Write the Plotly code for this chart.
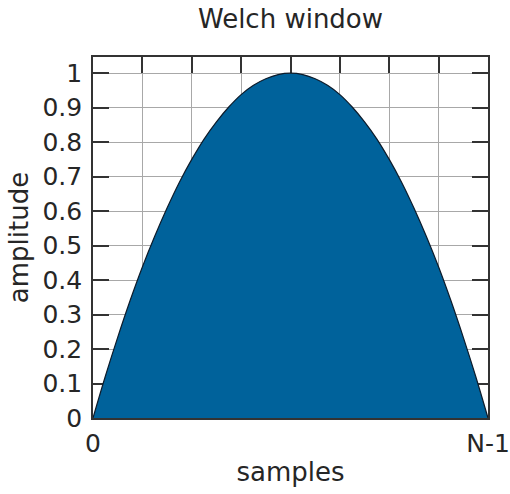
import plotly.graph_objects as go

# Welch window sampled at n = 0 .. N-1 (N-1 = 32 here)
samples = list(range(33))
amplitude = [
    0.000, 0.121, 0.234, 0.340, 0.438, 0.527, 0.609, 0.684,
    0.750, 0.809, 0.859, 0.902, 0.938, 0.965, 0.984, 0.996,
    1.000,
    0.996, 0.984, 0.965, 0.938, 0.902, 0.859, 0.809, 0.750,
    0.684, 0.609, 0.527, 0.438, 0.340, 0.234, 0.121, 0.000,
]

x_tickvals = [0, 4, 8, 12, 16, 20, 24, 28, 32]
x_ticktext = ["0", "", "", "", "", "", "", "", "N-1"]
y_tickvals = [0, 0.1, 0.2, 0.3, 0.4, 0.5, 0.6, 0.7, 0.8, 0.9, 1]
y_ticktext = ["0", "0.1", "0.2", "0.3", "0.4", "0.5", "0.6", "0.7", "0.8", "0.9", "1"]

FONT = "DejaVu Sans"
TEXT = "#262626"
FRAME = "#333333"
GRID = "#a8a8a8"
FS = 26

fig = go.Figure(
    go.Scatter(
        x=samples,
        y=amplitude,
        mode="lines",
        line=dict(color="#0d1b2a", width=1.2, shape="spline"),
        fill="tozeroy",
        fillcolor="#00629b",
        hoverinfo="skip",
    )
)

axis_common = dict(
    automargin=False,
    showline=True,
    linecolor=FRAME,
    linewidth=1.6,
    mirror="allticks",
    ticks="inside",
    ticklen=16,
    tickwidth=1.6,
    tickcolor=FRAME,
    showgrid=True,
    gridcolor=GRID,
    gridwidth=1.3,
    zeroline=False,
    layer="below traces",
    tickfont=dict(family=FONT, size=FS - 1, color=TEXT),
    fixedrange=True,
)

fig.update_xaxes(
    range=[0, 32],
    tickmode="array",
    tickvals=x_tickvals,
    ticktext=x_ticktext,
    ticklabelstandoff=2,
    title=dict(text="samples", font=dict(family=FONT, size=FS, color=TEXT), standoff=6),
    **axis_common,
)
fig.update_yaxes(
    range=[0, 1.047],
    tickmode="array",
    tickvals=y_tickvals,
    ticktext=y_ticktext,
    ticklabelstandoff=4,
    title=dict(text="amplitude", font=dict(family=FONT, size=FS, color=TEXT), standoff=6),
    **axis_common,
)

fig.update_layout(
    width=510,
    height=494,
    margin=dict(l=93, r=22, t=57, b=76),
    paper_bgcolor="white",
    plot_bgcolor="white",
    showlegend=False,
    title=dict(
        text="Welch window",
        font=dict(family=FONT, size=FS, color=TEXT),
        x=0.5,
        xref="paper",
        xanchor="center",
        y=1 - 19 / 494,
        yref="container",
        yanchor="middle",
    ),
)

fig.write_html("out.html")
